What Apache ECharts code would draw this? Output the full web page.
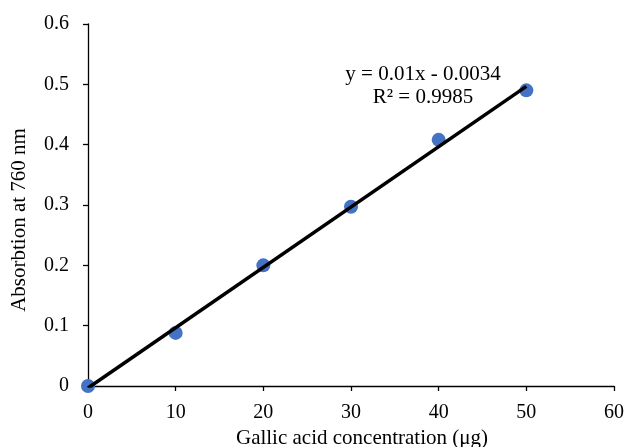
<!DOCTYPE html>
<html>
<head>
<meta charset="utf-8">
<script src="https://cdn.jsdelivr.net/npm/echarts@6/dist/echarts.min.js"></script>
<style>html,body{margin:0;padding:0;background:#fff;}#c{width:626px;height:447px;}</style>
</head>
<body>
<div id="c"></div>
<script>
var concentrations = [0, 10, 20, 30, 40, 50];
var absorbances = [0, 0.088, 0.2, 0.297, 0.408, 0.49];
var trendSlope = 0.01;
var trendIntercept = -0.0034;
var trendRange = [0, 50];
var equationLines = ['y = 0.01x - 0.0034', 'R\u00B2 = 0.9985'];

var points = concentrations.map(function (x, i) { return [x, absorbances[i]]; });
var trend = trendRange.map(function (x) { return [x, trendSlope * x + trendIntercept]; });

var font = '"Liberation Serif", "Times New Roman", serif';
var fsTick = 20;
var fsName = 21;
var chart = echarts.init(document.getElementById('c'), null, {renderer: 'canvas'});
chart.setOption({
  animation: false,
  backgroundColor: '#fff',
  grid: {left: 88, right: 12, top: 24, bottom: 61, containLabel: false, outerBoundsMode: 'none'},
  xAxis: {
    type: 'value', min: 0, max: 60, interval: 10,
    name: 'Gallic acid concentration (\u03BCg)', nameLocation: 'middle', nameGap: 38,
    nameTextStyle: {fontFamily: font, fontSize: fsName, color: '#000', padding: [0, 0, 0, 22]},
    axisLine: {onZero: false, lineStyle: {color: '#000', width: 1.3}},
    axisTick: {show: true, inside: false, length: 5, lineStyle: {color: '#000', width: 1.3}},
    axisLabel: {fontFamily: font, fontSize: fsTick, color: '#000', margin: 17},
    splitLine: {show: false}
  },
  yAxis: {
    type: 'value', min: 0, max: 0.6, interval: 0.1,
    name: 'Absorbtion at 760 nm', nameLocation: 'middle', nameGap: 58,
    nameTextStyle: {fontFamily: font, fontSize: fsName, color: '#000', padding: [0, 30, 0, 0]},
    axisLine: {show: true, lineStyle: {color: '#000', width: 1.3}},
    axisTick: {show: true, inside: false, length: 5, lineStyle: {color: '#000', width: 1.3}},
    axisLabel: {fontFamily: font, fontSize: fsTick, color: '#000', margin: 19,
      formatter: function (v) { return String(Math.round(v * 10) / 10); }},
    splitLine: {show: false}
  },
  series: [
    {
      type: 'scatter', data: points, symbol: 'circle', symbolSize: 14,
      itemStyle: {color: '#4472C4', opacity: 1}, z: 2
    },
    {
      type: 'line', data: trend, symbol: 'none', z: 3,
      lineStyle: {color: '#000', width: 3.5}
    }
  ],
  graphic: [{
    type: 'text', x: 423, y: 63, z: 10,
    style: {text: equationLines.join('\n'), font: fsName + 'px ' + font, fill: '#000',
      lineHeight: 23, align: 'center'}
  }]
});
</script>
</body>
</html>
